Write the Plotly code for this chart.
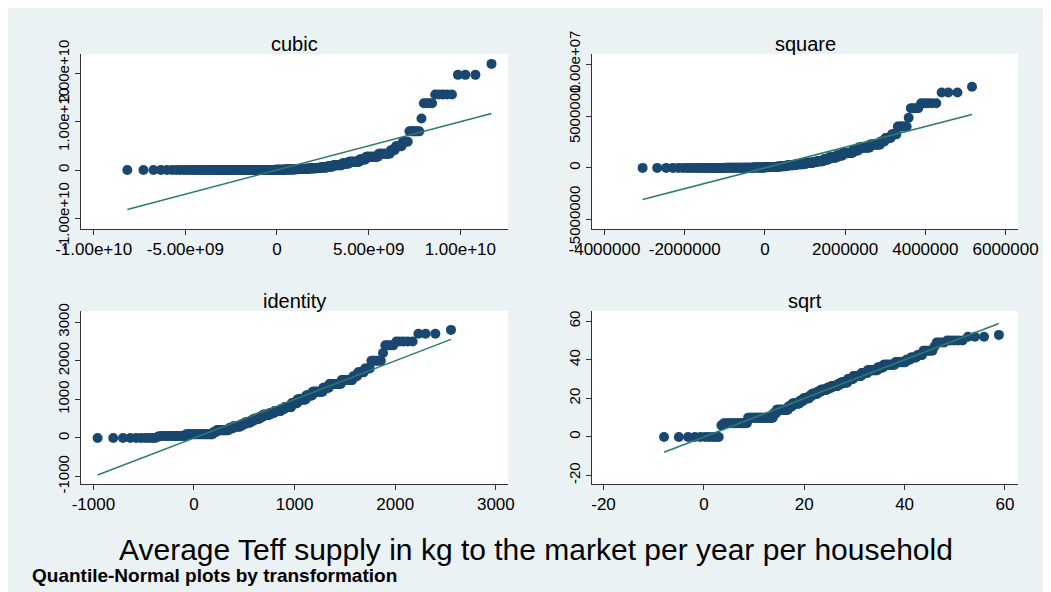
import numpy as np
import plotly.graph_objects as go
from statistics import NormalDist

# ---- data: average Teff supply (kg) per household, distinct levels and their frequencies
supply_values = [0, 36, 50, 100, 150, 200, 250, 300, 350, 400, 450, 500, 550, 600, 650, 700,
                 750, 800, 900, 1000, 1100, 1200, 1300, 1400, 1500, 1600, 1700, 1800, 2000,
                 2200, 2400, 2500, 2700, 2800]
supply_counts = [10, 1, 14, 25, 4, 16, 6, 12, 6, 10, 5, 10, 6, 12, 8, 12,
                 6, 12, 10, 14, 10, 15, 8, 14, 11, 4, 5, 4, 6,
                 1, 4, 5, 3, 1]

panel_titles = ["cubic", "square", "identity", "sqrt"]

cubic_xticks = [-1e10, -5e9, 0, 5e9, 1e10]
cubic_xtext = ["-1.00e+10", "-5.00e+09", "0", "5.00e+09", "1.00e+10"]
cubic_yticks = [-1e10, 0, 1e10, 2e10]
cubic_ytext = ["-1.00e+10", "0", "1.00e+10", "2.00e+10"]

square_xticks = [-4e6, -2e6, 0, 2e6, 4e6, 6e6]
square_xtext = ["-4000000", "-2000000", "0", "2000000", "4000000", "6000000"]
square_yticks = [-5e6, 0, 5e6, 1e7]
square_ytext = ["-5000000", "0", "5000000", "1.00e+07"]

identity_xticks = [-1000, 0, 1000, 2000, 3000]
identity_yticks = [-1000, 0, 1000, 2000, 3000]

sqrt_xticks = [-20, 0, 20, 40, 60]
sqrt_yticks = [-20, 0, 20, 40, 60]

x_title = "Average Teff supply in kg to the market per year per household"
note_text = "Quantile-Normal plots by transformation"

# ---- styling
OX, OY = 8, 8            # page (body) margin in the browser
W, H = 1043, 584
BG = "#EAF2F3"
MARK = "#1A476F"
LINE = "#2E7B6C"
AX = "#333333"
FONT = "Liberation Sans, Arial, sans-serif"

supply = np.repeat(np.array(supply_values, dtype=float), supply_counts)
transforms = {
    "cubic": supply ** 3,
    "square": supply ** 2,
    "identity": supply,
    "sqrt": np.sqrt(supply),
}


def qnorm(y):
    y = np.sort(y)
    n = len(y)
    nd = NormalDist(float(y.mean()), float(y.std(ddof=1)))
    q = np.array([nd.inv_cdf(i / (n + 1)) for i in range(1, n + 1)])
    return q, y


def px_x(p):
    return (p - OX) / W


def px_y(p):
    return 1 - (p - OY) / H


# panel boxes in screen pixels (left, right, top, bottom)
boxes = {
    "cubic": (81, 508, 54, 229),
    "square": (592, 1018, 54, 229),
    "identity": (81, 508, 311, 484),
    "sqrt": (592, 1018, 311, 484),
}
ranges = {
    "cubic": ([-1.069e10, 1.26e10], [-1.22e10, 2.40e10]),
    "square": ([-4.31e6, 6.31e6], [-5.9e6, 1.10e7]),
    "identity": ([-1123, 3121], [-1192, 3290]),
    "sqrt": ([-22.3, 62.6], [-24.4, 65.3]),
}
ticks = {
    "cubic": (cubic_xticks, cubic_xtext, cubic_yticks, cubic_ytext),
    "square": (square_xticks, square_xtext, square_yticks, square_ytext),
    "identity": (identity_xticks, [str(v) for v in identity_xticks],
                 identity_yticks, [str(v) for v in identity_yticks]),
    "sqrt": (sqrt_xticks, [str(v) for v in sqrt_xticks],
             sqrt_yticks, [str(v) for v in sqrt_yticks]),
}

fig = go.Figure()
annotations = []
for k, name in enumerate(panel_titles, start=1):
    q, y = qnorm(transforms[name])
    xa = "x" if k == 1 else f"x{k}"
    ya = "y" if k == 1 else f"y{k}"
    fig.add_trace(go.Scatter(x=q, y=y, mode="markers", xaxis=xa, yaxis=ya,
                             marker=dict(color=MARK, size=10, line=dict(width=0)),
                             showlegend=False, hoverinfo="skip"))
    lo, hi = float(q.min()), float(q.max())
    fig.add_trace(go.Scatter(x=[lo, hi], y=[lo, hi], mode="lines", xaxis=xa, yaxis=ya,
                             line=dict(color=LINE, width=1.5),
                             showlegend=False, hoverinfo="skip"))
    l, r, t, b = boxes[name]
    xr, yr = ranges[name]
    xt, xtt, yt, ytt = ticks[name]
    xkey = "xaxis" if k == 1 else f"xaxis{k}"
    ykey = "yaxis" if k == 1 else f"yaxis{k}"
    common = dict(showline=True, linecolor=AX, linewidth=1, ticks="outside", ticklen=5,
                  tickcolor=AX, tickwidth=1, showgrid=False, zeroline=False, automargin=False)
    fig.update_layout(**{
        xkey: dict(domain=[px_x(l), px_x(r)], range=xr, anchor=ya, tickmode="array",
                   tickvals=xt, ticktext=xtt, tickangle=0,
                   tickfont=dict(family=FONT, size=17, color="black"), **common),
        ykey: dict(domain=[px_y(b), px_y(t)], range=yr, anchor=xa, tickmode="array",
                   tickvals=yt, ticktext=ytt, tickangle=-90,
                   tickfont=dict(family=FONT, size=15, color="black"), **common),
    })
    annotations.append(dict(text=name, x=px_x((l + r) / 2), y=px_y(t), xref="paper", yref="paper",
                            xanchor="center", yanchor="bottom", yshift=-3, showarrow=False,
                            font=dict(family=FONT, size=20, color="black")))

annotations.append(dict(text=x_title, x=px_x(536), y=px_y(549), xref="paper", yref="paper",
                        xanchor="center", yanchor="middle", showarrow=False,
                        font=dict(family=FONT, size=30, color="black")))
annotations.append(dict(text="<b>" + note_text + "</b>", x=px_x(30), y=px_y(575), xref="paper",
                        yref="paper", xanchor="left", yanchor="middle", showarrow=False,
                        font=dict(family=FONT, size=19, color="black")))

fig.update_layout(
    width=W, height=H, margin=dict(l=0, r=0, t=0, b=0, autoexpand=False),
    paper_bgcolor=BG, plot_bgcolor="white",
    annotations=annotations,
)

fig.write_html("out.html")
